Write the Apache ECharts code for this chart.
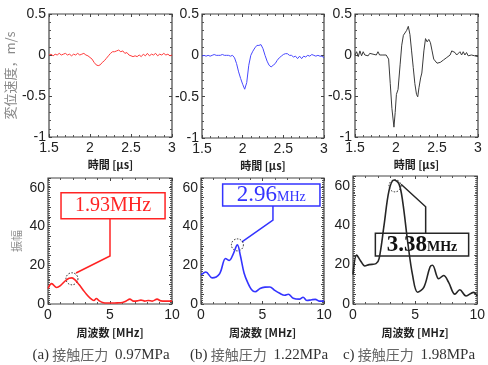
<!DOCTYPE html>
<html>
<head>
<meta charset="utf-8">
<script src="https://cdn.jsdelivr.net/npm/echarts@6/dist/echarts.min.js"></script>
<style>
  html, body { margin: 0; padding: 0; background: #fff; }
  #chart { width: 488px; height: 365px; }
</style>
</head>
<body>
<div id="chart"></div>
<script>
// time waveforms: [time μs, velocity m/s]
const waveA = [
  [1.5,0],[1.525,0.01],[1.55,-0.01],[1.575,0.01],[1.6,0],[1.625,0.02],[1.65,0],[1.675,0.01],
  [1.7,0.02],[1.725,0],[1.75,0.01],[1.775,-0.01],[1.8,0.01],[1.825,0],[1.85,0.02],[1.875,0],
  [1.9,0.01],[1.925,0.02],[1.95,0],[1.975,-0.01],[2.0,-0.03],[2.025,-0.05],[2.05,-0.09],[2.075,-0.12],
  [2.1,-0.13],[2.125,-0.12],[2.15,-0.09],[2.175,-0.07],[2.2,-0.04],[2.225,-0.01],[2.25,0.02],[2.275,0.04],
  [2.3,0.04],[2.325,0.05],[2.35,0.06],[2.375,0.04],[2.4,0.05],[2.425,0.02],[2.45,0.03],[2.475,0],
  [2.5,-0.01],[2.525,-0.02],[2.55,-0.01],[2.575,-0.02],[2.6,0],[2.625,-0.02],[2.65,0.01],[2.675,-0.01],
  [2.7,0.02],[2.725,-0.01],[2.75,0.01],[2.775,0],[2.8,0.02],[2.825,-0.01],[2.85,0.01],[2.875,0],
  [2.9,0.02],[2.925,0],[2.95,0.01],[2.975,-0.01],[3.0,0]
];
const waveB = [
  [1.5,-0.01],[1.525,0],[1.55,-0.01],[1.575,0],[1.6,-0.01],[1.625,0],[1.65,0.01],[1.675,0],
  [1.7,0],[1.725,0],[1.75,0.01],[1.775,0],[1.8,0],[1.825,0],[1.85,-0.01],[1.875,0],
  [1.9,-0.03],[1.925,-0.1],[1.95,-0.2],[1.975,-0.28],[2.0,-0.35],[2.025,-0.41],[2.05,-0.33],[2.075,-0.12],
  [2.1,0],[2.125,0.05],[2.15,0.09],[2.175,0.12],[2.2,0.12],[2.225,0.13],[2.25,0.08],[2.275,0],
  [2.3,-0.07],[2.325,-0.12],[2.35,-0.14],[2.375,-0.12],[2.4,-0.1],[2.425,-0.06],[2.45,-0.03],[2.475,-0.01],
  [2.5,0.01],[2.525,0.02],[2.55,0.02],[2.575,0],[2.6,0],[2.625,-0.02],[2.65,-0.01],[2.675,-0.04],
  [2.7,-0.01],[2.725,-0.04],[2.75,-0.01],[2.775,-0.02],[2.8,0],[2.825,-0.01],[2.85,0.01],[2.875,0],
  [2.9,-0.01],[2.925,0],[2.95,-0.01],[2.975,-0.01],[3.0,-0.03]
];
const waveC = [
  [1.5,0],[1.52,0.04],[1.54,-0.02],[1.56,0.05],[1.58,-0.01],[1.6,0.04],[1.62,0],[1.64,0.02],
  [1.66,-0.01],[1.68,0.02],[1.7,0],[1.72,0.01],[1.74,-0.01],[1.76,0],[1.78,0.04],[1.8,0],
  [1.82,0],[1.84,0],[1.86,0.01],[1.88,0],[1.9,0],[1.91,-0.05],[1.93,-0.35],[1.95,-0.65],
  [1.975,-0.88],[1.99,-0.7],[2.005,-0.48],[2.025,-0.42],[2.05,-0.12],[2.07,0.12],[2.09,0.24],[2.11,0.25],
  [2.13,0.3],[2.15,0.35],[2.17,0.25],[2.19,0.05],[2.21,-0.15],[2.23,-0.35],[2.25,-0.48],[2.265,-0.51],
  [2.28,-0.4],[2.3,-0.28],[2.315,-0.22],[2.34,0.05],[2.36,0.2],[2.38,0.16],[2.4,0.19],[2.42,0.15],
  [2.44,0.05],[2.46,-0.05],[2.48,-0.06],[2.5,-0.1],[2.52,-0.12],[2.54,-0.09],[2.56,-0.1],[2.58,-0.06],
  [2.6,-0.05],[2.62,-0.03],[2.64,-0.05],[2.66,0],[2.68,0.05],[2.7,0.06],[2.72,0.03],[2.74,0],
  [2.76,-0.02],[2.78,0.04],[2.8,0],[2.82,0.04],[2.84,0],[2.86,0.03],[2.88,-0.01],[2.9,0],
  [2.92,0],[2.94,-0.02],[2.96,-0.01],[2.98,-0.02],[3.0,-0.02]
];

// amplitude spectra: [frequency MHz, amplitude]
const specA = [
  [0,8],[0.3,10.5],[0.7,8.5],[1.0,9.5],[1.4,12],[1.7,13.3],[1.93,13.5],[2.2,12.3],
  [2.5,10],[2.8,7.5],[3.1,5],[3.4,3],[3.7,1.8],[3.9,2.8],[4.1,1.8],[4.4,0.8],
  [4.8,0.5],[5.2,0.5],[5.6,0.6],[6.0,0.8],[6.3,1.5],[6.6,2.5],[6.9,1.5],[7.2,1.6],
  [7.5,2.0],[7.8,1.5],[8.1,1.8],[8.4,1.5],[8.8,2.5],[9.1,1.6],[9.5,1.5],[10,1.5]
];
const specB = [
  [0,15],[0.4,16.5],[0.9,13.5],[1.5,15.5],[2.0,23.5],[2.3,22.5],[2.6,25.5],[2.96,30.5],
  [3.2,25],[3.5,16],[3.8,11],[4.1,7.5],[4.4,6.3],[4.8,8],[5.2,8.7],[5.6,8.8],
  [6.0,7],[6.4,5.5],[6.8,4.5],[7.1,5],[7.5,3],[8.0,2.5],[8.3,3.5],[8.6,1.8],
  [9.0,2.2],[9.3,2.4],[9.6,1.5],[10,1.5]
];
const specC = [
  [0,15],[0.3,24.8],[0.6,22],[0.95,19.3],[1.3,20],[1.85,20.5],[2.1,23],[2.5,40],
  [2.9,57.6],[3.3,63],[3.7,61],[4.0,52],[4.4,31.7],[4.8,14.5],[5.2,6],[5.7,8.4],
  [6.2,18.8],[6.4,19.7],[6.9,12.8],[7.3,14.5],[7.7,11],[8.2,5],[8.6,7.2],[9.1,4.1],
  [9.7,5.9],[10,4.1]
];

const peakFreq = [1.93, 2.96, 3.38];
const peakAmp = [13, 30.5, 60];
const pressure = ['0.97MPa', '1.22MPa', '1.98MPa'];
const panelTag = ['(a)', '(b)', 'c)'];

const chart = echarts.init(document.getElementById('chart'));

const grids = [
  { left: 49, top: 14, width: 123, height: 123 },
  { left: 202, top: 14, width: 122, height: 124 },
  { left: 355, top: 14, width: 123, height: 123 },
  { left: 48, top: 178, width: 124, height: 126 },
  { left: 201, top: 178, width: 123, height: 126 },
  { left: 353, top: 176, width: 126, height: 128 }
];
const captionX = [101, 259, 409];
const waves = [waveA, waveB, waveC];
const specs = [specA, specB, specC];
const waveColors = ['#ff3b3b', '#4848ff', '#3a3a3a'];
const specColors = ['#ff2424', '#3434ff', '#262626'];

const tick = { show: true, inside: true, length: 3, lineStyle: { color: '#444', width: 1 } };
const minor = (n) => ({ show: true, splitNumber: n, length: 2, lineStyle: { color: '#555', width: 1 } });
const labelStyle = { fontSize: 14, color: '#222', fontFamily: 'Liberation Sans', margin: 4 };
const nameStyle = { fontSize: 11, fontWeight: 'bold', color: '#222', fontFamily: 'Noto Sans CJK JP' };

const xAxis = [], yAxis = [], series = [];
grids.forEach((g, i) => {
  const isWave = i < 3;
  const xr = isWave ? { min: 1.5, max: 3, interval: 0.5 } : { min: 0, max: 10, interval: 5 };
  const yr = isWave ? { min: -1, max: 0.5, interval: 0.5 } : { min: 0, max: 65, interval: 5 };
  const common = {
    type: 'value', gridIndex: i,
    axisLine: { show: false, onZero: false },
    splitLine: { show: false },
    axisTick: tick
  };
  xAxis.push(Object.assign({}, common, xr, {
    position: 'bottom',
    minorTick: minor(5),
    axisLabel: labelStyle,
    name: isWave ? '時間 [μs]' : '周波数 [MHz]',
    nameLocation: 'middle',
    nameGap: isWave ? 22 : 23,
    nameTextStyle: nameStyle
  }));
  xAxis.push(Object.assign({}, common, xr, { position: 'top', minorTick: minor(5), axisLabel: { show: false } }));
  const yMain = Object.assign({}, common, yr, {
    position: 'left',
    minorTick: minor(5),
    axisLabel: Object.assign({}, labelStyle, {
      margin: 3,
      formatter: isWave ? null : (v) => (v % 20 === 0 ? String(v) : '')
    })
  });
  if (i === 0) {
    Object.assign(yMain, {
      name: '変位速度，m/s', nameLocation: 'middle', nameGap: 32,
      nameTextStyle: { fontSize: 13, color: '#8a8a8a', fontFamily: 'Noto Sans CJK JP' }
    });
  }
  if (i === 3) {
    Object.assign(yMain, {
      name: '振幅', nameLocation: 'middle', nameGap: 26,
      nameTextStyle: { fontSize: 11, color: '#8a8a8a', fontFamily: 'Noto Sans CJK JP' }
    });
  }
  yAxis.push(yMain);
  yAxis.push(Object.assign({}, common, yr, { position: 'right', minorTick: minor(5), axisLabel: { show: false } }));

  series.push({
    type: 'line',
    xAxisIndex: 2 * i,
    yAxisIndex: 2 * i,
    data: isWave ? waves[i] : specs[i - 3],
    showSymbol: false,
    smooth: isWave ? false : 0.35,
    lineStyle: { color: isWave ? waveColors[i] : specColors[i - 3], width: isWave ? 1 : 1.6 },
    silent: true,
    animation: false
  });
});

chart.setOption({
  animation: false,
  grid: grids.map(g => Object.assign({ show: true, borderColor: '#444', borderWidth: 1.2, backgroundColor: 'transparent' }, g)),
  xAxis,
  yAxis,
  series
});

// peak annotations, laid out in each spectrum's data coordinates
const annots = [
  { s: 3, color: '#ff2424', box: [[1.05, 57.4], [9.44, 44.0]], leader: [[5.0, 44.0], [5.0, 24.8], [2.26, 16]],
    text: '{a|1.93MHz}', rich: { a: { fontSize: 20, fontFamily: 'Liberation Serif', fill: '#ff2424' } } },
  { s: 4, color: '#3434ff', box: [[1.76, 61.9], [9.67, 50.6]], leader: [[5.85, 50.6], [5.85, 43.3], [3.33, 32]],
    text: '{a|2.96}{b|MHz}', rich: { a: { fontSize: 23, fontFamily: 'Liberation Serif', fill: '#3434ff' },
      b: { fontSize: 14, fontFamily: 'Liberation Serif', fill: '#3434ff', padding: [5, 0, 0, 0] } } },
  { s: 5, color: '#262626', box: [[1.8, 35.9], [9.31, 24.4]], leader: [[5.85, 35.9], [5.85, 49.4], [3.87, 60.8]],
    text: '{a|3.38}{b|MHz}', rich: { a: { fontSize: 23, fontWeight: 'bold', fontFamily: 'Liberation Serif', fill: '#111' },
      b: { fontSize: 14, fontWeight: 'bold', fontFamily: 'Liberation Serif', fill: '#111', padding: [5, 0, 0, 0] } } }
];

const graphic = [];
annots.forEach((a, k) => {
  const px = (p) => chart.convertToPixel({ seriesIndex: a.s }, p);
  const p0 = px(a.box[0]), p1 = px(a.box[1]);
  const c = px([peakFreq[k], peakAmp[k]]);
  graphic.push({
    type: 'rect', silent: true,
    shape: { x: p0[0], y: p0[1], width: p1[0] - p0[0], height: p1[1] - p0[1] },
    style: { fill: 'none', stroke: a.color, lineWidth: 1.5 }
  });
  graphic.push({
    type: 'polyline', silent: true,
    shape: { points: a.leader.map(px) },
    style: { fill: null, stroke: a.color, lineWidth: 1.5 }
  });
  graphic.push({
    type: 'circle', silent: true,
    shape: { cx: c[0], cy: c[1], r: 6 },
    style: { fill: 'none', stroke: '#222', lineWidth: 1, lineDash: [1.5, 1.5] }
  });
  graphic.push({
    type: 'text', silent: true,
    x: (p0[0] + p1[0]) / 2, y: (p0[1] + p1[1]) / 2,
    style: { text: a.text, rich: a.rich, align: 'center', verticalAlign: 'middle' }
  });
});

// panel captions under each spectrum
captionX.forEach((cx, k) => {
  graphic.push({
    type: 'text', silent: true,
    x: cx, y: 355,
    style: {
      text: '{p|' + panelTag[k] + '} {c|接触圧力}  {p|' + pressure[k] + '}',
      rich: {
        p: { fontSize: 15, fontFamily: 'Liberation Serif', fill: '#333' },
        c: { fontSize: 14, fontFamily: 'Noto Sans CJK JP', fill: '#666' }
      },
      align: 'center', verticalAlign: 'middle'
    }
  });
});

chart.setOption({ graphic });

window.addEventListener('resize', () => chart.resize());
</script>
</body>
</html>
